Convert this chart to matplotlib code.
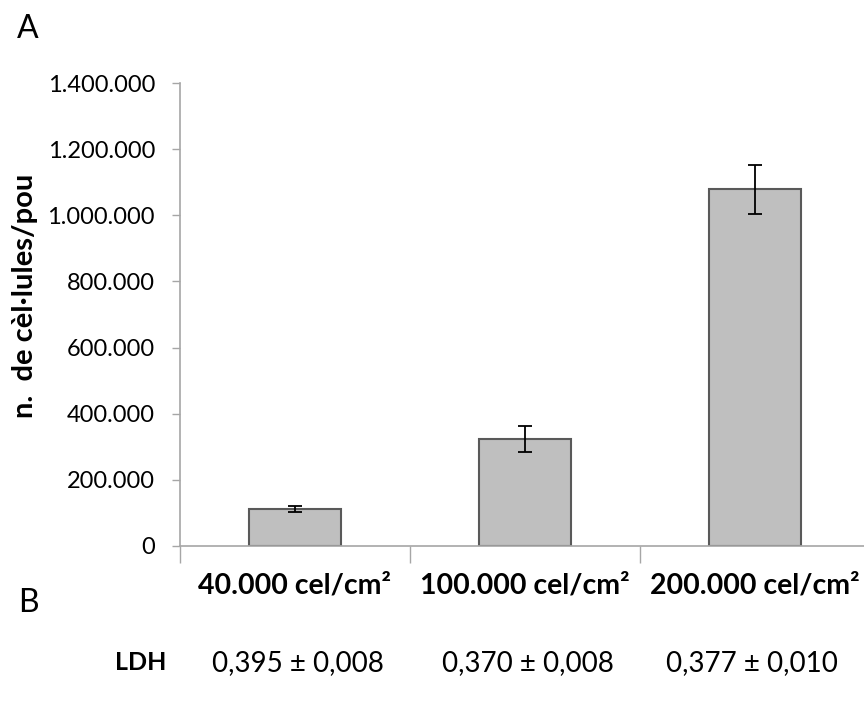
import matplotlib
matplotlib.use("Agg")
import matplotlib.pyplot as plt
from matplotlib.ticker import FuncFormatter, FixedLocator

categories = ["40.000 cel/cm²", "100.000 cel/cm²", "200.000 cel/cm²"]
values = [111000, 324000, 1078000]
errors = [9500, 40000, 74000]
ldh_labels = ["0,395 ± 0,008", "0,370 ± 0,008", "0,377 ± 0,010"]
y_ticks = [0, 200000, 400000, 600000, 800000, 1000000, 1200000, 1400000]

plt.rcParams['font.family'] = ['Lato', 'DejaVu Sans']

W, H = 864, 704
fig = plt.figure(figsize=(W / 100, H / 100), dpi=100)
ax = fig.add_axes([180 / W, (H - 546) / H, 690 / W, 463 / H])

x = list(range(len(categories)))
ax.bar(x, values, width=0.4, color="#bfbfbf", edgecolor="#595959", linewidth=1.5, zorder=2)
ax.errorbar(x, values, yerr=errors, fmt="none", ecolor="black", elinewidth=1.3,
            capsize=5, capthick=1.3, zorder=3)

ax.set_xlim(-0.5, 2.5)
ax.set_ylim(0, 1400000)
ax.set_yticks(y_ticks)
ax.yaxis.set_major_formatter(FuncFormatter(lambda v, p: f"{int(v):,}".replace(",", ".")))
ax.tick_params(axis="y", length=6, width=1, color="#a6a6a6", labelsize=17, pad=12,
               labelcolor="#000000")

ax.xaxis.set_major_locator(FixedLocator([-0.5, 0.5, 1.5, 2.5]))
ax.xaxis.set_major_formatter(FuncFormatter(lambda v, p: ""))
ax.xaxis.set_minor_locator(FixedLocator(x))
ax.set_xticklabels(categories, minor=True)
ax.tick_params(axis="x", which="major", length=12, width=1, color="#a6a6a6")
ax.tick_params(axis="x", which="minor", length=0, labelsize=20.5, pad=19)
for lab in ax.get_xticklabels(minor=True):
    lab.set_fontweight("bold")

for s in ["top", "right"]:
    ax.spines[s].set_visible(False)
for s in ["left", "bottom"]:
    ax.spines[s].set_color("#a6a6a6")
    ax.spines[s].set_linewidth(1.2)

fig.text(25 / W, 1 - 296 / H, "n.  de cèl·lules/pou", rotation=90, fontsize=21,
         fontweight="bold", ha="center", va="center")

fig.text(17 / W, 1 - 29 / H, "A", fontsize=23, ha="left", va="center")
fig.text(18 / W, 1 - 603 / H, "B", fontsize=23, ha="left", va="center")

fig.text(141 / W, 1 - 663 / H, "LDH", fontsize=18, fontweight="bold", ha="center", va="center")
ldh_x = [298, 528, 752]
for xp, lab in zip(ldh_x, ldh_labels):
    fig.text(xp / W, 1 - 663 / H, lab, fontsize=20, ha="center", va="center")

fig.savefig("out.png", dpi=100)
